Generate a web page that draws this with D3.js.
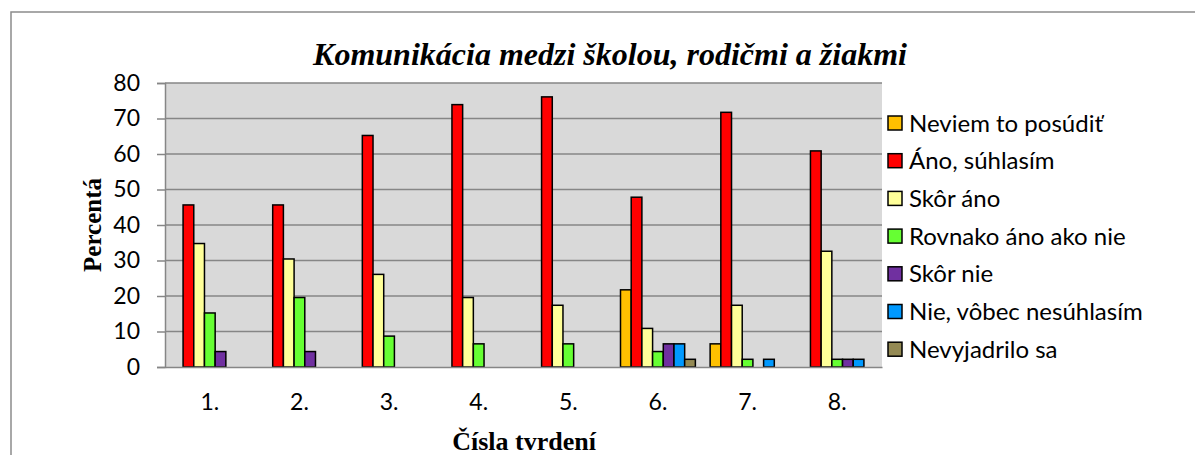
<!DOCTYPE html>
<html><head><meta charset="utf-8">
<script src="https://cdn.jsdelivr.net/npm/d3@7"></script>
<style>html,body{margin:0;padding:0;background:#fff;}svg{display:block;}</style>
</head><body>
<svg id="c" width="1195" height="455"></svg>
<script>
const categories = ["1.","2.","3.","4.","5.","6.","7.","8."];
const seriesNames = ["Neviem to posúdiť","Áno, súhlasím","Skôr áno","Rovnako áno ako nie","Skôr nie","Nie, vôbec nesúhlasím","Nevyjadrilo sa"];
const seriesColors = ["#FFC000","#FF0000","#FFFF99","#66FF33","#7030A0","#0099FF","#948A54"];
const neviem      = [0, 0, 0, 0, 0, 21.74, 6.52, 0];
const anoSuhlasim = [45.65, 45.65, 65.22, 73.91, 76.09, 47.83, 71.74, 60.87];
const skorAno     = [34.78, 30.43, 26.09, 19.57, 17.39, 10.87, 17.39, 32.61];
const rovnako     = [15.22, 19.57, 8.70, 6.52, 6.52, 4.35, 2.17, 2.17];
const skorNie     = [4.35, 4.35, 0, 0, 0, 6.52, 0, 2.17];
const vobecNie    = [0, 0, 0, 0, 0, 6.52, 2.17, 2.17];
const nevyjadrilo = [0, 0, 0, 0, 0, 2.17, 0, 0];
const yTicks = [0,10,20,30,40,50,60,70,80];
const seriesValues = [neviem, anoSuhlasim, skorAno, rovnako, skorNie, vobecNie, nevyjadrilo];

const svg = d3.select("#c");
const pLeft = 165, pRight = 882, pTop = 83, pBottom = 367;
const sans = "Lato, 'Open Sans', sans-serif";
const serif = "'Liberation Serif', 'Times New Roman', serif";

// outer chart border
svg.append("rect").attr("x",11).attr("y",12).attr("width",1195).attr("height",460)
  .attr("fill","#fff").attr("stroke","#8c8c8c").attr("stroke-width",1.5);

const y = d3.scaleLinear().domain([0,80]).range([pBottom, pTop]);
const x0 = d3.scaleBand().domain(categories).range([pLeft, pRight]).padding(0);
const x1 = d3.scaleBand().domain(d3.range(seriesNames.length)).range([0, x0.bandwidth()]).paddingInner(0).paddingOuter(0.69);

svg.append("rect").attr("x",pLeft).attr("y",pTop).attr("width",pRight-pLeft).attr("height",pBottom-pTop).attr("fill","#D9D9D9");

// grid + y axis
const yAxis = d3.axisLeft(y).tickValues(yTicks).tickSize(8).tickPadding(17);
const ga = svg.append("g").attr("transform",`translate(${pLeft},0)`).call(yAxis);
ga.select(".domain").attr("stroke","#868686").attr("stroke-width",1.5);
ga.selectAll(".tick line").attr("stroke","#868686").attr("stroke-width",1.5);
ga.selectAll(".tick text").attr("font-family",sans).attr("font-size",23).attr("fill","#000");
svg.append("g").selectAll("line").data(yTicks.filter(d=>d>0)).join("line")
  .attr("x1",pLeft).attr("x2",pRight).attr("y1",d=>y(d)).attr("y2",d=>y(d))
  .attr("stroke","#868686").attr("stroke-width",1.5);

// bars
const groups = svg.append("g").selectAll("g").data(categories).join("g")
  .attr("transform",d=>`translate(${x0(d)},0)`);
groups.selectAll("rect").data((d,i)=>seriesValues.map((s,j)=>({j, v:s[i]})).filter(e=>e.v>0)).join("rect")
  .attr("x",e=>x1(e.j)).attr("width",x1.bandwidth())
  .attr("y",e=>y(e.v)).attr("height",e=>y(0)-y(e.v))
  .attr("fill",e=>seriesColors[e.j]).attr("stroke","#000").attr("stroke-width",1.5);

// x axis
const xAxis = d3.axisBottom(x0).tickSize(0).tickPadding(0);
const gx = svg.append("g").attr("transform",`translate(0,${pBottom})`).call(xAxis);
gx.select(".domain").attr("stroke","#868686").attr("stroke-width",1.5);
gx.selectAll(".tick text").attr("font-family",sans).attr("font-size",23).attr("fill","#000")
  .attr("y",43).attr("dy",0);

// titles
svg.append("text").attr("x",610).attr("y",65).attr("text-anchor","middle")
  .attr("font-family",serif).attr("font-style","italic").attr("font-weight","bold")
  .attr("font-size",32).text("Komunikácia medzi školou, rodičmi a žiakmi");
svg.append("text").attr("transform","translate(101,225) rotate(-90)").attr("text-anchor","middle")
  .attr("font-family",serif).attr("font-weight","bold").attr("font-size",25).text("Percentá");
svg.append("text").attr("x",524).attr("y",450).attr("text-anchor","middle")
  .attr("font-family",serif).attr("font-weight","bold").attr("font-size",26).text("Čísla tvrdení");

// legend
const lg = svg.append("g").selectAll("g").data(seriesNames).join("g")
  .attr("transform",(d,i)=>`translate(888,${123 + i*37.7})`);
lg.append("rect").attr("x",0).attr("y",-7).attr("width",14).attr("height",14)
  .attr("fill",(d,i)=>seriesColors[i]).attr("stroke","#000").attr("stroke-width",1.5);
lg.append("text").attr("x",21).attr("y",0).attr("dy","0.36em")
  .attr("font-family",sans).attr("font-size",24).text(d=>d);
</script>
</body></html>
